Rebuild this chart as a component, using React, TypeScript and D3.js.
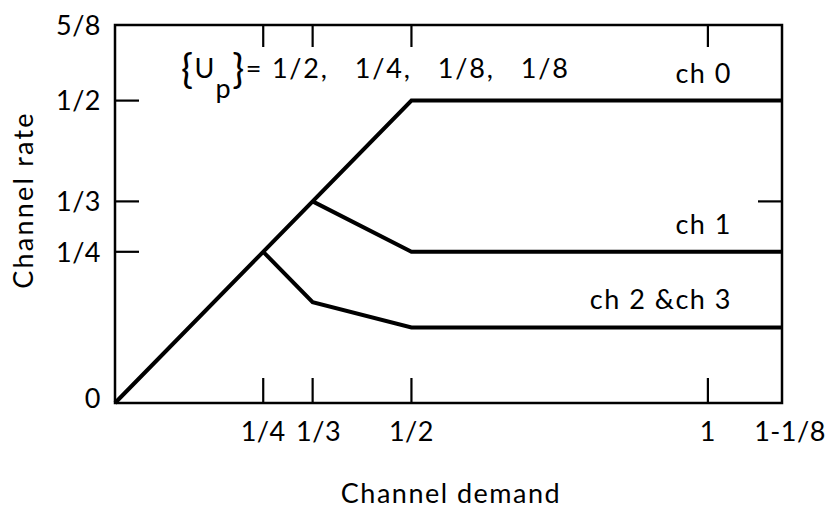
import React from "react";
import * as d3 from "d3";

// Data
const ch0X = [0, 1 / 2, 9 / 8];
const ch0Y = [0, 1 / 2, 1 / 2];
const ch1X = [1 / 3, 1 / 2, 9 / 8];
const ch1Y = [1 / 3, 1 / 4, 1 / 4];
const ch23X = [1 / 4, 1 / 3, 1 / 2, 9 / 8];
const ch23Y = [1 / 4, 1 / 6, 1 / 8, 1 / 8];

const xTickValues = [1 / 4, 1 / 3, 1 / 2, 1];
const xTickLabels = ["1/4", "1/3", "1/2", "1"];
const yTickValues = [1 / 4, 1 / 3, 1 / 2];
const yTickLabels = ["1/4", "1/3", "1/2"];
const xMax = 9 / 8;
const yMax = 5 / 8;
const xEndLabel = "1-1/8";
const yEndLabel = "5/8";
const zeroLabel = "0";

const seriesLabels = ["ch 0", "ch 1", "ch 2 &ch 3"];
const seriesLabelY = [0.5, 0.25, 0.125];
const upValues = ["1/2", "1/4", "1/8", "1/8"];

const W = 834;
const H = 512;
const FONT = "Lato, 'DejaVu Sans', sans-serif";
const FS = 27;
const LS = 1.5;

export default function App() {
  const x = d3.scaleLinear().domain([0, xMax]).range([115, 782]);
  const y = d3.scaleLinear().domain([0, yMax]).range([403, 25]);

  const line = d3
    .line<[number, number]>()
    .x((d) => x(d[0]))
    .y((d) => y(d[1]));

  const series = [
    d3.zip(ch0X, ch0Y) as [number, number][],
    d3.zip(ch1X, ch1Y) as [number, number][],
    d3.zip(ch23X, ch23Y) as [number, number][],
  ];

  const x0 = x(0);
  const x1 = x(xMax);
  const y0 = y(0);
  const y1 = y(yMax);
  const tickLen = 24;

  const textProps = {
    fontFamily: FONT,
    fontSize: FS,
    fill: "#000",
    letterSpacing: LS,
    style: { whiteSpace: "pre" as const },
  };
  const tickTextProps = { ...textProps, letterSpacing: 0.5 };

  return (
    <svg
      width={W}
      height={H}
      viewBox={`0 0 ${W} ${H}`}
      style={{ display: "block", position: "absolute", left: 0, top: 0, background: "#fff" }}
    >
      <rect x={0} y={0} width={W} height={H} fill="#fff" />
      {/* frame */}
      <rect
        x={x0}
        y={y1}
        width={x1 - x0}
        height={y0 - y1}
        fill="none"
        stroke="#000"
        strokeWidth={2.5}
      />
      {/* x ticks bottom and top */}
      {xTickValues.map((v, i) => (
        <g key={"xt" + i}>
          <line x1={x(v)} x2={x(v)} y1={y0} y2={y0 - tickLen - 1} stroke="#000" strokeWidth={2.2} />
          <line x1={x(v)} x2={x(v)} y1={y1} y2={y1 + tickLen - 2} stroke="#000" strokeWidth={2.2} />
          <text x={x(v) + (i === 1 ? 6 : 0)} y={441} textAnchor="middle" {...tickTextProps}>
            {xTickLabels[i]}
          </text>
        </g>
      ))}
      <text x={x1 + 8} y={441} textAnchor="middle" {...tickTextProps}>
        {xEndLabel}
      </text>
      {/* y ticks left and right */}
      {yTickValues.map((v, i) => (
        <g key={"yt" + i}>
          <line x1={x0} x2={x0 + tickLen} y1={y(v)} y2={y(v)} stroke="#000" strokeWidth={2.2} />
          <line x1={x1} x2={x1 - tickLen} y1={y(v)} y2={y(v)} stroke="#000" strokeWidth={2.2} />
          <text x={101} y={y(v)} dy="0.36em" textAnchor="end" {...tickTextProps}>
            {yTickLabels[i]}
          </text>
        </g>
      ))}
      <text x={101} y={y1} dy="0.36em" textAnchor="end" {...tickTextProps}>
        {yEndLabel}
      </text>
      <text x={101} y={y0} dy="0.2em" textAnchor="end" {...tickTextProps}>
        {zeroLabel}
      </text>

      {/* series */}
      {series.map((s, i) => (
        <path
          key={"s" + i}
          d={line(s) || ""}
          fill="none"
          stroke="#000"
          strokeWidth={4}
          strokeLinejoin="miter"
        />
      ))}

      {/* series labels */}
      {seriesLabels.map((t, i) => (
        <text key={"sl" + i} x={732} y={y(seriesLabelY[i]) - 18} textAnchor="end" {...textProps}>
          {t}
        </text>
      ))}

      {/* annotation */}
      <text x={181} y={78} {...textProps}>
        <tspan fontSize={40} dy={5}>{"{"}</tspan>
        <tspan dy={-5}>U</tspan>
        <tspan dy={20}>p</tspan>
        <tspan fontSize={40} dy={-15}>{"}"}</tspan>
        <tspan dy={-5} letterSpacing={1.8}>{"= " + upValues.join(",   ")}</tspan>
      </text>

      {/* axis titles */}
      <text x={451} y={503} textAnchor="middle" {...textProps}>
        Channel demand
      </text>
      <text
        transform={`translate(33, 200) rotate(-90)`}
        textAnchor="middle"
        {...textProps}
        letterSpacing={2.2}
      >
        Channel rate
      </text>
    </svg>
  );
}
